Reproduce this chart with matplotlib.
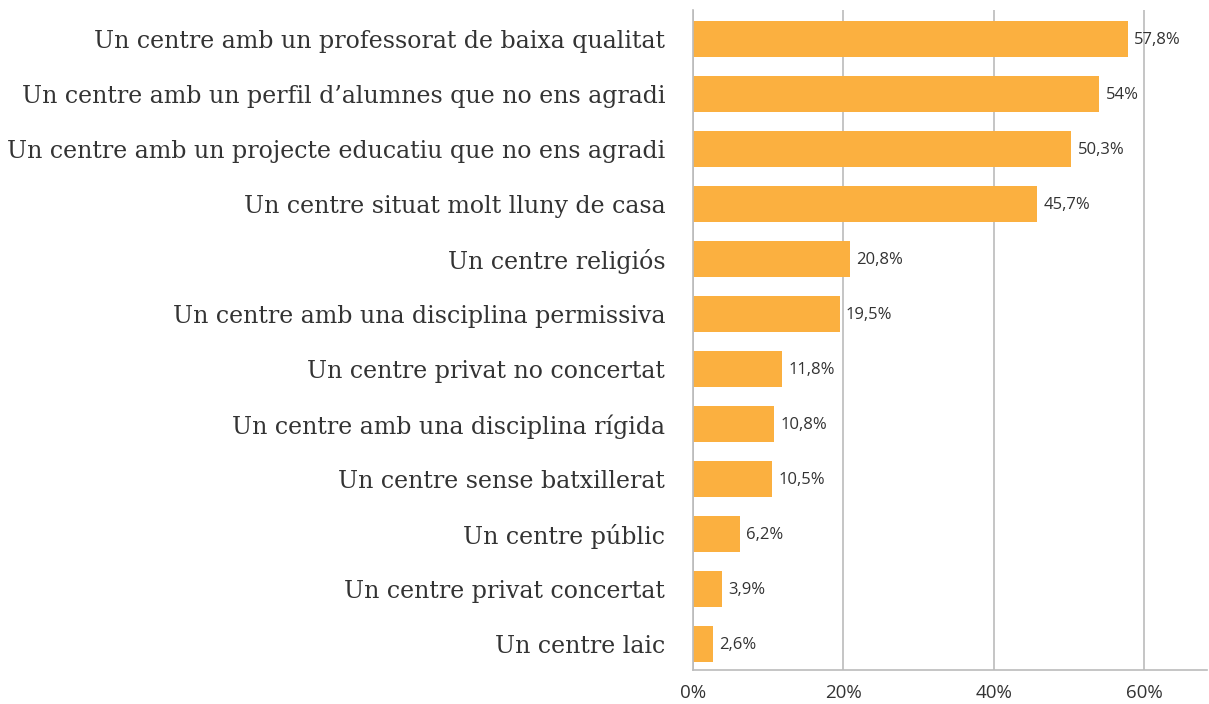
import matplotlib.pyplot as plt
import numpy as np

# Data
categories = [
    "Un centre amb un professorat de baixa qualitat",
    "Un centre amb un perfil d\u2019alumnes que no ens agradi",
    "Un centre amb un projecte educatiu que no ens agradi",
    "Un centre situat molt lluny de casa",
    "Un centre religi\u00f3s",
    "Un centre amb una disciplina permissiva",
    "Un centre privat no concertat",
    "Un centre amb una disciplina r\u00edgida",
    "Un centre sense batxillerat",
    "Un centre p\u00fablic",
    "Un centre privat concertat",
    "Un centre laic",
]
values = [57.8, 54, 50.3, 45.7, 20.8, 19.5, 11.8, 10.8, 10.5, 6.2, 3.9, 2.6]
value_labels = ["57,8%", "54%", "50,3%", "45,7%", "20,8%", "19,5%",
                "11,8%", "10,8%", "10,5%", "6,2%", "3,9%", "2,6%"]
x_ticks = [0, 20, 40, 60]
x_tick_labels = ["0%", "20%", "40%", "60%"]

bar_color = "#FBB040"
text_color = "#333333"
grid_color = "#BBBBBB"

fig = plt.figure(figsize=(12.09, 7.04), dpi=100)
ax = fig.add_axes([0.5732, 0.0483, 0.4251, 0.9375])

y = np.arange(len(categories))
ax.barh(y, values, height=0.65, color=bar_color, zorder=2)

# value labels next to bars
for yi, v, lab in zip(y, values, value_labels):
    ax.annotate(lab, (v, yi), xytext=(4.5, -0.5), textcoords="offset points",
                va="center", ha="left", fontsize=12, color=text_color,
                family="Open Sans")

ax.set_xlim(0, 68.3)
ax.set_ylim(len(categories) - 0.53, -0.53)

ax.set_yticks(y)
ax.set_yticklabels(categories, family="DejaVu Serif", fontsize=17.1, color=text_color)
ax.tick_params(axis="y", length=0, pad=20)

ax.set_xticks(x_ticks)
ax.set_xticklabels(x_tick_labels, family="Open Sans", fontsize=13.5, color=text_color)
ax.tick_params(axis="x", length=0, pad=10)

ax.grid(axis="x", color=grid_color, linewidth=1.2, zorder=1)
for s in ["top", "right"]:
    ax.spines[s].set_visible(False)
ax.spines["left"].set_color(grid_color)
ax.spines["bottom"].set_color(grid_color)
ax.spines["left"].set_linewidth(1.2)
ax.spines["bottom"].set_linewidth(1.2)

plt.savefig("out.png", dpi=100)
plt.close()
